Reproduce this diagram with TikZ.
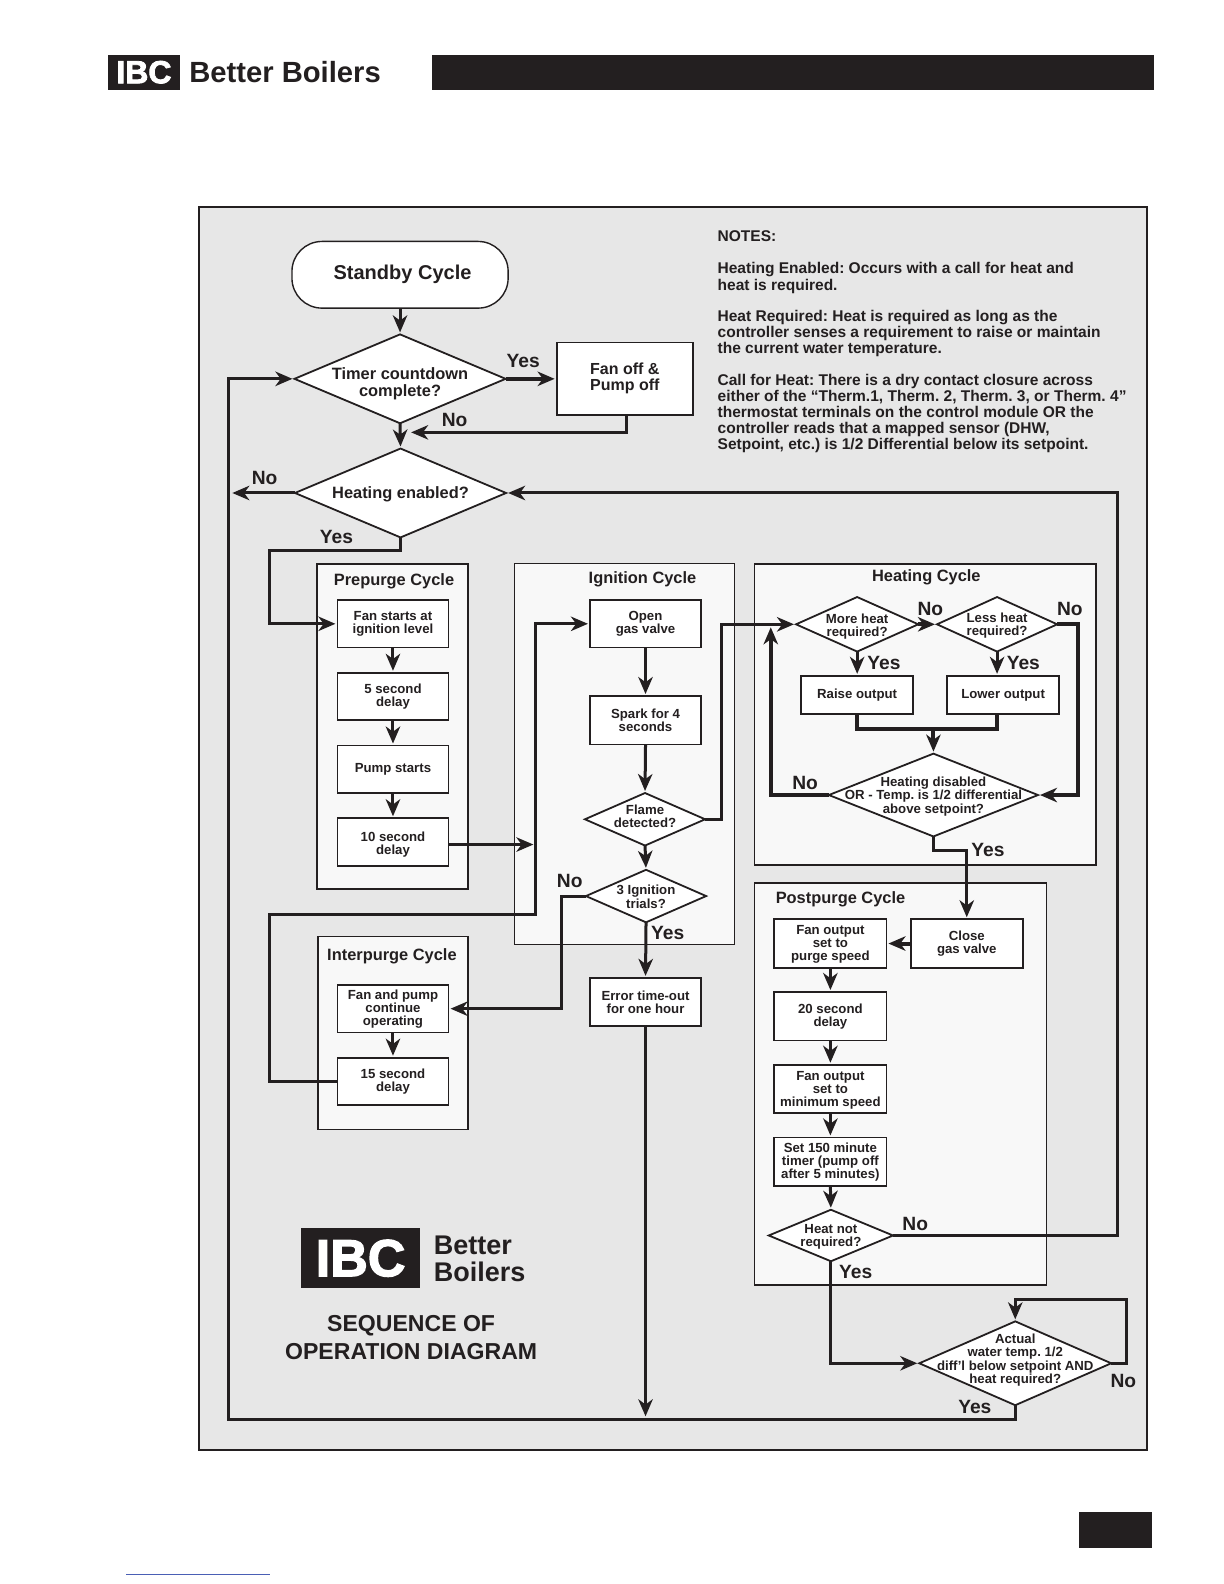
\documentclass[tikz,border=0pt]{standalone}
\usepackage{fontspec}
\setmainfont{Liberation Sans}
\newfontfamily\heavyfont[FakeBold=2.5]{Liberation Sans Bold}
\usetikzlibrary{arrows.meta,shapes.geometric,calc}
\definecolor{ink}{HTML}{231F20}
\definecolor{bggray}{HTML}{E7E7E7}
\definecolor{panelgray}{HTML}{F8F8F8}
\definecolor{linkblue}{HTML}{4A5FB5}
\newcommand\zt[2][0pt]{\makebox[0pt]{\smash{\raisebox{\dimexpr-0.5\height+#1\relax}{\begin{tabular}[b]{@{}c@{}}#2\end{tabular}}}}}
\frenchspacing
\tikzset{
  txtfont/.style={font=\fontsize{6.6}{6.5}\selectfont\bfseries},
  bx/.style 2 args={draw=ink,fill=white,line width=0.9pt,inner sep=0pt,outer sep=0pt,rectangle,
    minimum width=#1*0.505pt,minimum height=#2*0.505pt,align=center,text=ink,txtfont},
  dia/.style 2 args={draw=ink,fill=white,line width=0.9pt,diamond,inner sep=0pt,outer sep=0pt,
    minimum width=#1*0.505pt,minimum height=#2*0.505pt,text=ink,txtfont},
  panel/.style={draw=ink,fill=panelgray,line width=0.8pt,rectangle,inner sep=0pt,outer sep=0pt},
  ptitle/.style={text=ink,inner sep=0pt,font=\fontsize{8.2}{9}\selectfont\bfseries},
  yn/.style={text=ink,inner sep=0pt,yshift=-0.4pt,font=\fontsize{9.6}{10}\selectfont\bfseries},
  conn/.style={draw=ink,line width=1.5pt,-{Stealth[length=8.5pt,width=7.2pt,inset=2.6pt]},shorten >=1pt},
  plain/.style={draw=ink,line width=2pt},
  heavyline/.style={line width=2pt},
  solid fill/.style={fill=ink,draw=none,rectangle,inner sep=0pt,outer sep=0pt}
}
\begin{document}
\begin{tikzpicture}[x=0.505pt,y=-0.505pt]
\useasboundingbox (0,0) rectangle (1211.5,1568);
\fill[white] (0,0) rectangle (1211.5,1568);

% header
\node[solid fill,minimum width=71*0.505pt,minimum height=35*0.505pt,text=white,font=\fontsize{16}{16}\selectfont\heavyfont] (logoa) at (142.5,71.5) {IBC};
\node[text=ink,inner sep=0pt,anchor=west,font=\fontsize{14.6}{15}\selectfont\bfseries] (logoatext) at (187,71.5) {Better Boilers};
\node[solid fill,minimum width=714*0.505pt,minimum height=35*0.505pt] (headbar) at (785,71.5) {};
\node[solid fill,minimum width=72*0.505pt,minimum height=35*0.505pt] (pagebox) at (1104,1514.5) {};
\coordinate (linka) at (125,1559);
\coordinate (linkb) at (267,1559);
\draw[linkblue,line width=0.5pt] (linka) -- (linkb);

% frame
\node[draw=ink,fill=bggray,line width=1.05pt,rectangle,inner sep=0pt,outer sep=0pt,minimum width=938.5*0.505pt,minimum height=1230*0.505pt] (frame) at (666.5,820) {};

% panels
\node[panel,minimum width=149*0.505pt,minimum height=322*0.505pt] (prepanel) at (388.5,719) {};
\node[panel,line width=0.5pt,minimum width=218*0.505pt,minimum height=377*0.505pt] (ignpanel) at (618,746.5) {};
\node[panel,minimum width=338*0.505pt,minimum height=298*0.505pt] (heatpanel) at (916,707) {};
\node[panel,minimum width=148*0.505pt,minimum height=191*0.505pt] (interpanel) at (389,1022.5) {};
\node[panel,minimum width=289*0.505pt,minimum height=398*0.505pt] (postpanel) at (891.5,1073) {};

\node[ptitle] (pretitle) at (390,575.5) {Prepurge Cycle};
\node[ptitle] (igntitle) at (636,573) {Ignition Cycle};
\node[ptitle] (heattitle) at (917,571) {Heating Cycle};
\node[ptitle] (intertitle) at (388,946.5) {Interpurge Cycle};
\node[ptitle] (posttitle) at (832,890.5) {Postpurge Cycle};

% notes
\node[text=ink,inner sep=0pt,anchor=north west,align=left,font=\fontsize{7.76}{8.08}\selectfont\bfseries] (notes) at (710,228) {NOTES:\\[8.08pt]
Heating Enabled: Occurs with a call for heat and\\
heat is required.\\[7.6pt]
Heat Required: Heat is required as long as the\\
controller senses a requirement to raise or maintain\\
the current water temperature.\\[7.6pt]
Call for Heat: There is a dry contact closure across\\
either of the “Therm.1, Therm. 2, Therm. 3, or Therm. 4”\\
thermostat terminals on the control module OR the\\
controller reads that a mapped sensor (DHW,\\
Setpoint, etc.) is 1/2 Differential below its setpoint.};

% top flow
\node[draw=ink,fill=white,line width=0.7pt,rectangle,rounded corners=15pt,inner sep=0pt,outer sep=0pt,minimum width=214*0.505pt,minimum height=66*0.505pt,text=ink,font=\fontsize{10}{11}\selectfont\bfseries] (standby) at (396,272) {\hspace*{2.5pt}Standby Cycle};
\node[dia={209}{88},font=\fontsize{8.2}{8}\selectfont\bfseries] (timer) at (396,375) {\zt[-1.6pt]{Timer countdown\\complete?}};
\node[bx={135}{72},align=left,font=\fontsize{8}{8}\selectfont\bfseries] (fanoff) at (618.5,375) {Fan off \&\\Pump off};
\node[dia={209}{88},font=\fontsize{8.2}{8}\selectfont\bfseries] (heating) at (396.5,488) {\zt{Heating enabled?}};

% prepurge
\node[bx={110}{47}] (fanstart) at (389,617.5) {Fan starts at\\ignition level};
\node[bx={110}{47}] (fivesec) at (389,689.5) {5 second\\delay};
\node[bx={110}{47}] (pumpst) at (389,761.5) {Pump starts};
\node[bx={110}{47}] (tensec) at (389,833.5) {\rule{0pt}{7pt}10 second\\delay};

% ignition
\node[bx={110}{47}] (opengas) at (639,617.5) {Open\\gas valve};
\node[bx={110}{48}] (spark) at (639,713) {Spark for 4\\seconds};
\node[dia={119}{52}] (flame) at (638.5,811) {\zt[1.5pt]{Flame\\detected?}};
\node[dia={119}{52}] (trials) at (639.5,887) {\zt[-0.4pt]{3 Ignition\\trials?}};
\node[bx={110}{48}] (errbox) at (639,992) {Error time-out\\for one hour};

% interpurge
\node[bx={110}{47}] (fanpump) at (389,998.5) {Fan and pump\\continue\\operating};
\node[bx={110}{47}] (fifteen) at (389,1070.5) {15 second\\delay};

% heating
\node[dia={121}{54}] (more) at (848.5,618) {\zt[-0.5pt]{More heat\\required?}};
\node[dia={119}{54}] (less) at (987,618) {\zt{Less heat\\required?}};
\node[bx={111}{38}] (raise) at (848.5,688) {Raise output};
\node[bx={111}{38}] (lower) at (993,688) {Lower output};
\node[dia={207}{82}] (disabled) at (924,787) {\zt{Heating disabled\\OR - Temp. is 1/2 differential\\above setpoint?}};

% postpurge
\node[bx={111}{48}] (purgefan) at (822,934) {\rule{0pt}{5.5pt}Fan output\\set to\\purge speed};
\node[bx={111}{48}] (closegas) at (957,934) {Close\\gas valve};
\node[bx={111}{48}] (twenty) at (822,1006) {20 second\\delay};
\node[bx={111}{48}] (minspeed) at (822,1078) {\rule{0pt}{5.5pt}Fan output\\set to\\minimum speed};
\node[bx={111}{48}] (settimer) at (822,1150) {\rule{0pt}{5.5pt}Set 150 minute\\timer (pump off\\after 5 minutes)};
\node[dia={123}{51}] (heatnot) at (822.5,1223) {\zt{Heat not\\required?}};
\node[dia={190}{83}] (actual) at (1005,1349.5) {\zt[2.2pt]{Actual\\water temp. 1/2\\diff’l below setpoint AND\\heat required?}};

% logo bottom
\node[solid fill,minimum width=118*0.505pt,minimum height=59*0.505pt,text=white,font=\fontsize{26}{26}\selectfont\heavyfont] (logob) at (357,1245.5) {IBC};
\node[text=ink,inner sep=0pt,anchor=west,align=left,font=\fontsize{13.5}{13.7}\selectfont\bfseries] (logobtext) at (429,1246) {Better\\Boilers};
\node[text=ink,inner sep=0pt,align=center,font=\fontsize{11.53}{13.6}\selectfont\bfseries] (seqtitle) at (407,1324) {SEQUENCE OF\\OPERATION DIAGRAM};

% free ends and corners
\coordinate (fanx) at (620,411);
\coordinate (fantip) at (405,428);
\coordinate (ll) at (226,1405);
\coordinate (notip) at (228,488);
\coordinate (yesb) at (267,545);
\coordinate (sep) at (530,905);
\coordinate (sepb) at (267,905);
\coordinate (septip) at (530,836);
\coordinate (tenout) at (444,836);
\coordinate (flamev) at (714,811);
\coordinate (trialv) at (556,887);
\coordinate (errtip) at (639,1404);
\coordinate (mgc) at (924,722);
\coordinate (noleft) at (763,619);
\coordinate (lessv) at (1067,787);
\coordinate (disb) at (957,842);
\coordinate (jr) at (1106,488);
\coordinate (lr) at (1115,1286);
\coordinate (raisebot) at (848.5,707);
\coordinate (lowerbot) at (987,707);
\coordinate (lesstop) at (987,669);

% connectors
\draw[conn] (standby.south) -- (timer.north);
\draw[conn] (timer.south) -- (heating.north);
\draw[conn,heavyline] (timer.east) -- (fanoff.west);
\draw[conn] (fanx) |- (fantip);
\draw[conn] (actual.south) |- (ll) |- (timer.west);
\draw[conn] (heating.west) -- (notip);
\draw[conn] (heating.south) |- (yesb) |- (fanstart.west);
\draw[conn] (fanstart.south) -- (fivesec.north);
\draw[conn] (fivesec.south) -- (pumpst.north);
\draw[conn] (pumpst.south) -- (tensec.north);
\draw[conn] (tenout) -- (septip);
\draw[conn] (fifteen.west) -| (sepb) -- (sep) |- (opengas.west);
\draw[conn] (opengas.south) -- (spark.north);
\draw[conn] (spark.south) -- (flame.north);
\draw[conn] (flame.south) -- (trials.north);
\draw[conn] (trials.south) -- (errbox.north);
\draw[conn] (errbox.south) -- (errtip);
\draw[conn] (flame.east) -| (more.west -| flamev) -- (more.west);
\draw[conn] (trials.west) -| (trialv |- fanpump.east) -- (fanpump.east);
\draw[conn] (fanpump.south) -- (fifteen.north);
\draw[conn,heavyline] (more.east) -- (less.west);
\draw[conn] (more.south) -- (raise.north);
\draw[conn] (less.south) -- (lesstop);
\draw[plain] (raisebot) |- (mgc) -| (lowerbot);
\draw[conn,heavyline] (mgc) -- (disabled.north);
\draw[conn,heavyline] (disabled.west) -| (noleft);
\draw[conn,heavyline] (less.east) -| (lessv) -- (disabled.east);
\draw[conn] (disabled.south) |- (disb) -- (closegas.north);
\draw[conn,heavyline] (closegas.west) -- (purgefan.east);
\draw[conn] (purgefan.south) -- (twenty.north);
\draw[conn] (twenty.south) -- (minspeed.north);
\draw[conn] (minspeed.south) -- (settimer.north);
\draw[conn] (settimer.south) -- (heatnot.north);
\draw[conn] (heatnot.east) -| (jr) -- (heating.east);
\draw[conn] (heatnot.south) |- (actual.west);
\draw[conn] (actual.east) -| (lr) -| (actual.north);

% decision labels
\node[yn] (y1) at (518,357) {Yes};
\node[yn] (n1) at (450,415) {No};
\node[yn] (n2) at (262,472) {No};
\node[yn] (y2) at (333,531) {Yes};
\node[yn] (n3) at (564,871) {No};
\node[yn] (y3) at (661,923) {Yes};
\node[yn] (n4) at (921,602) {No};
\node[yn] (n5) at (1059,602) {No};
\node[yn] (y4) at (875,655) {Yes};
\node[yn] (y5) at (1013,655) {Yes};
\node[yn] (n6) at (797,774) {No};
\node[yn] (y6) at (978,841) {Yes};
\node[yn] (n7) at (906,1211) {No};
\node[yn] (y7) at (847,1258) {Yes};
\node[yn] (n8) at (1112,1366) {No};
\node[yn] (y8) at (965,1392) {Yes};
\end{tikzpicture}
\end{document}
